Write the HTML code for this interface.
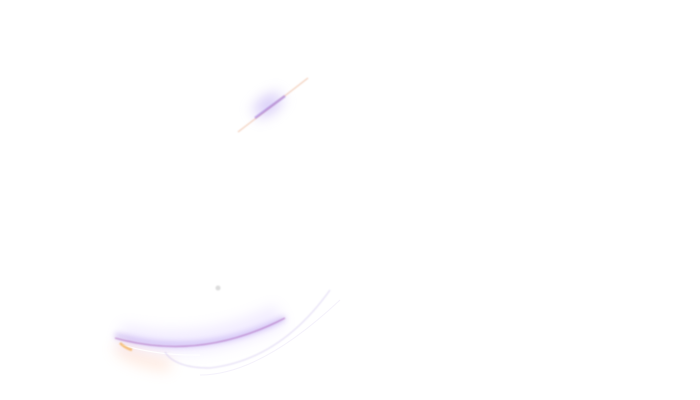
<!DOCTYPE html>
<html><head><meta charset="utf-8"><style>html,body{margin:0;padding:0;background:#fff;width:700px;height:400px;overflow:hidden}</style></head>
<body>
<svg width="700" height="400" viewBox="0 0 700 400" xmlns="http://www.w3.org/2000/svg">
<defs>
<filter id="b3" x="-50%" y="-200%" width="200%" height="500%"><feGaussianBlur stdDeviation="3"/></filter>
<filter id="b6" x="-50%" y="-300%" width="200%" height="700%"><feGaussianBlur stdDeviation="7"/></filter>
<filter id="b1" x="-20%" y="-100%" width="140%" height="300%"><feGaussianBlur stdDeviation="0.8"/></filter>
</defs>
<path d="M120 335 Q200 355 280 315" stroke="#d8c8ff" stroke-width="22" fill="none" opacity="0.35" filter="url(#b6)"/>
<path d="M118 345 Q130 360 170 365" stroke="#ffc0a0" stroke-width="12" fill="none" opacity="0.35" filter="url(#b6)"/>
<path d="M115 335 Q200 360 285 318" stroke="#a080e8" stroke-width="4" fill="none" opacity="0.5" filter="url(#b3)"/>
<path d="M115 338 Q200 362 285 318" stroke="#b070c0" stroke-width="1.3" fill="none" opacity="0.7" filter="url(#b1)"/>
<path d="M122 345 Q160 356 200 355" stroke="#fff" stroke-width="1.2" fill="none" opacity="0.9"/>
<path d="M120 343 Q125 348 132 350" stroke="#f0a030" stroke-width="2.5" fill="none" opacity="0.6" filter="url(#b1)"/>
<path d="M165 352 Q175 368 210 368 Q280 360 330 290" stroke="#c0b0e8" stroke-width="1.2" fill="none" opacity="0.4" filter="url(#b1)"/>
<path d="M200 375 Q260 375 340 300" stroke="#e0d8f4" stroke-width="1" fill="none" opacity="0.35"/>
<circle cx="218" cy="288" r="2.5" fill="#ddd" filter="url(#b1)"/>
<ellipse cx="268" cy="105" rx="16" ry="8" transform="rotate(-35 268 105)" fill="#a890f0" opacity="0.5" filter="url(#b6)"/>
<path d="M238 132 L308 78" stroke="#eab090" stroke-width="1.2" fill="none" opacity="0.6" filter="url(#b1)"/>
<path d="M255 118 L285 96" stroke="#9a70e0" stroke-width="2.5" fill="none" opacity="0.55" filter="url(#b1)"/>
</svg>
</body></html>
